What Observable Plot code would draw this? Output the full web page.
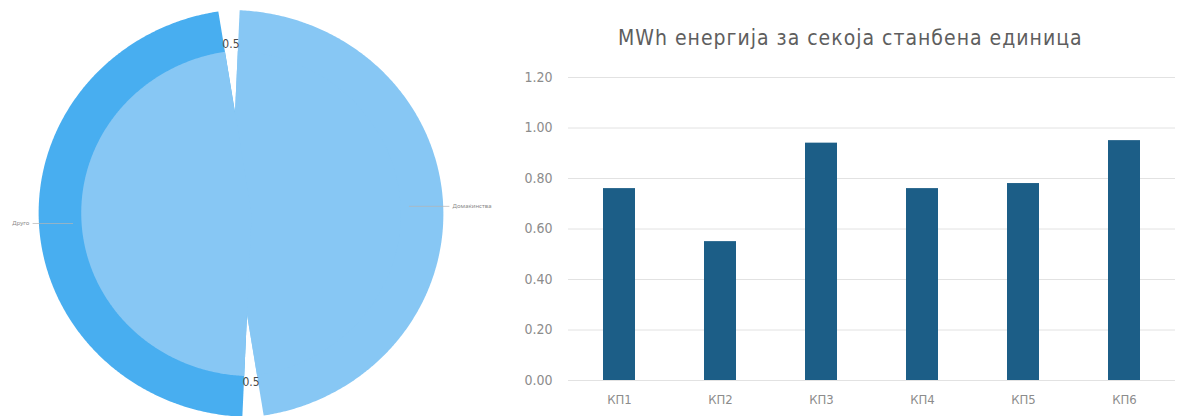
<!DOCTYPE html>
<html>
<head>
<meta charset="utf-8">
<script src="https://cdn.jsdelivr.net/npm/d3@7"></script>
<script src="https://cdn.jsdelivr.net/npm/@observablehq/plot@0.6"></script>
<style>
  html, body { margin: 0; padding: 0; background: #ffffff; }
  #page { position: relative; width: 1186px; height: 416px; overflow: hidden; background: #fff; }
  #pie { position: absolute; left: 0; top: 0; }
  #bars { position: absolute; left: 500px; top: 0; }
  #title { position: absolute; left: 618px; top: 24px; text-align: left;
           font-family: "DejaVu Sans Condensed", Roboto, sans-serif; font-size: 21px; letter-spacing: 1px;
           color: #5e5e5e; white-space: nowrap; line-height: 28px; }
</style>
</head>
<body>
<div id="page">
  <div id="pie"></div>
  <div id="title"></div>
  <div id="bars"></div>
</div>
<script>
// ---------- data ----------
const barCategories = ["КП1", "КП2", "КП3", "КП4", "КП5", "КП6"];
const barValues = [0.76, 0.55, 0.94, 0.76, 0.78, 0.95];
const yTicks = [0, 0.2, 0.4, 0.6, 0.8, 1.0, 1.2];
const chartTitle = "MWh енергија за секоја станбена единица";

const pieCategories = ["Домаќинства", "Друго"];
const pieValues = [0.5, 0.5];
const pieValueLabels = ["0.5", "0.5"];

// ---------- pie (drawn through Plot line marks with fills) ----------
const pieColors = ["#87c7f4", "#48aef0"];
const innerColor = "#87c7f4";
const startDeg = 2.5, gapDeg = 11.5, offset = -0.05, innerRatio = 0.8;
const total = d3.sum(pieValues);
const rad = d => d * Math.PI / 180;

let acc = startDeg;
const slices = pieValues.map((v, i) => {
  const a0 = acc, a1 = acc + v / total * 360 - gapDeg;
  acc += v / total * 360;
  const mid = rad((a0 + a1) / 2);
  return {i, a0, a1, mid, cx: offset * Math.sin(mid), cy: offset * Math.cos(mid)};
});

function wedge(s, r) {
  const pts = [{x: s.cx, y: s.cy}];
  for (let a = s.a0; a <= s.a1 + 1e-9; a += 0.5) {
    pts.push({x: s.cx + r * Math.sin(rad(a)), y: s.cy + r * Math.cos(rad(a))});
  }
  return pts;
}

const pieMarks = [];
slices.forEach(s => pieMarks.push(Plot.line(wedge(s, 1), {x: "x", y: "y", fill: pieColors[s.i], stroke: "none", curve: "linear-closed"})));
slices.forEach(s => pieMarks.push(Plot.line(wedge(s, innerRatio), {x: "x", y: "y", fill: innerColor, stroke: "none", curve: "linear-closed"})));

// leader lines and category labels
const leader = slices.map(s => {
  const dir = Math.sin(s.mid) > 0 ? 1 : -1;
  const tilt = 0.035 * (Math.cos(s.mid) > 0 ? 1 : -1) * (dir > 0 ? 1 : 1.4);
  return {
    x1: s.cx + 0.84 * Math.sin(s.mid), y1: tilt,
    x2: s.cx + 1.03 * Math.sin(s.mid), y2: tilt,
    tx: s.cx + 1.045 * Math.sin(s.mid), ty: tilt,
    name: pieCategories[s.i], anchor: dir > 0 ? "start" : "end"
  };
});
pieMarks.push(Plot.link(leader, {x1: "x1", y1: "y1", x2: "x2", y2: "y2", stroke: "#b5b5b5", strokeWidth: 0.7}));
pieMarks.push(Plot.text(leader.filter(d => d.anchor === "start"), {x: "tx", y: "ty", text: "name", textAnchor: "start", fontSize: 6, fill: "#8a8a8a"}));
pieMarks.push(Plot.text(leader.filter(d => d.anchor === "end"), {x: "tx", y: "ty", text: "name", textAnchor: "end", fontSize: 6, fill: "#8a8a8a"}));

// value labels at the gaps
const valueLbl = slices.map(s => {
  const a = rad(s.a1 + gapDeg / 2);
  return {x: 0.835 * Math.sin(a), y: 0.83 * Math.cos(a), t: pieValueLabels[s.i]};
});
pieMarks.push(Plot.text(valueLbl, {x: "x", y: "y", text: "t", fontSize: 12, fill: "#4a4a4a", letterSpacing: 1.5, fontFamily: "DejaVu Sans Condensed, Roboto, sans-serif"}));

const pcx = 240.5, pcy = 213, prx = 213, pry = 204, pw = 500, ph = 416;
const pie = Plot.plot({
  width: pw, height: ph,
  marginLeft: 0, marginRight: 0, marginTop: 0, marginBottom: 0,
  x: {domain: [-pcx / prx, (pw - pcx) / prx], range: [0, pw], axis: null},
  y: {domain: [-(ph - pcy) / pry, pcy / pry], range: [ph, 0], axis: null},
  style: {background: "transparent", overflow: "visible"},
  marks: pieMarks
});
document.getElementById("pie").appendChild(pie);

// ---------- bar chart ----------
const barData = barCategories.map((c, i) => ({cat: c, value: barValues[i]}));
const bars = Plot.plot({
  width: 686, height: 416,
  marginLeft: 68, marginRight: 11, marginTop: 77, marginBottom: 36,
  style: {fontFamily: "DejaVu Sans Condensed, Roboto, sans-serif", fontSize: "13px", color: "#8c8c8c", background: "transparent", overflow: "visible"},
  x: {domain: barCategories, paddingInner: 0.68, paddingOuter: 0.34, label: null},
  y: {domain: [0, 1.2], label: null},
  marks: [
    Plot.ruleY(yTicks, {stroke: "#e2e2e2", strokeWidth: 1}),
    Plot.barY(barData, {x: "cat", y: "value", fill: "#1c5e87"}),
    Plot.axisX({tickSize: 0, tickPadding: 14, fill: "#8c8c8c", fontSize: 13}),
    Plot.axisY({ticks: yTicks, tickFormat: d3.format(".2f"), tickSize: 0, tickPadding: 16, fill: "#8c8c8c", fontSize: 14})
  ]
});
document.getElementById("bars").appendChild(bars);
document.getElementById("title").textContent = chartTitle;
</script>
</body>
</html>
